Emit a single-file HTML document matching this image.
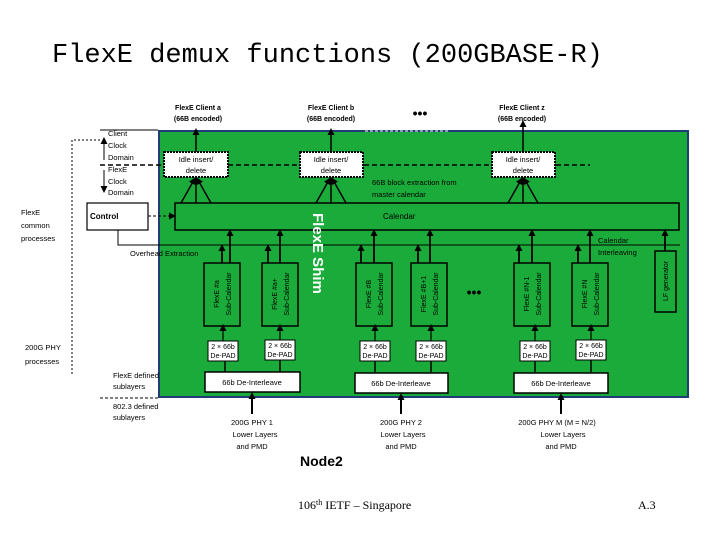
<!DOCTYPE html>
<html><head><meta charset="utf-8"><style>
html,body{margin:0;padding:0;background:#fff;width:720px;height:540px;overflow:hidden}
svg{display:block}
text{font-family:"Liberation Sans",sans-serif}
</style></head><body>
<svg width="720" height="540" viewBox="0 0 720 540" xmlns="http://www.w3.org/2000/svg">
<defs><marker id="a" markerWidth="7" markerHeight="7" refX="4" refY="3.5" orient="auto" markerUnits="userSpaceOnUse"><path d="M0,0L7,3.5L0,7z" fill="#000"/></marker></defs>
<text x="52" y="62" font-size="27" style="font-family:'Liberation Mono',monospace">FlexE demux functions (200GBASE-R)</text>
<rect x="159" y="131" width="529" height="266" fill="#1aab3a" stroke="#1f3c78" stroke-width="2"/>
<line x1="100" y1="130" x2="158" y2="130" stroke="#000"/>
<line x1="365" y1="131" x2="450" y2="131" stroke="#fff" stroke-dasharray="3,2"/>
<g font-size="7" font-weight="bold" text-anchor="middle">
<text x="198" y="110">FlexE Client a</text><text x="198" y="121">(66B encoded)</text>
<text x="331" y="110">FlexE Client b</text><text x="331" y="121">(66B encoded)</text>
<text x="522" y="110">FlexE Client z</text><text x="522" y="121">(66B encoded)</text>
</g>
<text x="420" y="118" font-size="14" font-weight="bold" text-anchor="middle">•••</text>
<line x1="100" y1="165" x2="590" y2="165" stroke="#000" stroke-width="1.5" stroke-dasharray="5,3"/>
<g fill="#fff" stroke="#000" stroke-width="2" stroke-dasharray="2,1">
<rect x="164" y="152" width="64" height="25"/><rect x="300" y="152" width="63" height="25"/><rect x="492" y="152" width="63" height="25"/>
</g>
<g font-size="7.5" text-anchor="middle">
<text x="196" y="162">Idle insert/</text><text x="196" y="173">delete</text>
<text x="331" y="162">Idle insert/</text><text x="331" y="173">delete</text>
<text x="523" y="162">Idle insert/</text><text x="523" y="173">delete</text>
</g>
<g stroke="#000" stroke-width="1.5" marker-end="url(#a)">
<line x1="196" y1="152" x2="196" y2="131"/><line x1="331" y1="152" x2="331" y2="131"/><line x1="523" y1="152" x2="523" y2="123"/>
<line x1="181" y1="203" x2="194" y2="180"/><line x1="196" y1="203" x2="196" y2="180"/><line x1="211" y1="203" x2="198" y2="180"/>
<line x1="316" y1="203" x2="329" y2="180"/><line x1="331" y1="203" x2="331" y2="180"/><line x1="346" y1="203" x2="333" y2="180"/>
<line x1="508" y1="203" x2="521" y2="180"/><line x1="523" y1="203" x2="523" y2="180"/><line x1="538" y1="203" x2="525" y2="180"/>
</g>
<text x="372" y="185" font-size="7.5">66B block extraction from</text>
<text x="372" y="197" font-size="7.5">master calendar</text>
<rect x="175" y="203" width="504" height="27" fill="#1aab3a" stroke="#000" stroke-width="1.5"/>
<text x="383" y="219" font-size="8">Calendar</text>
<rect x="87" y="203" width="61" height="27" fill="#fff" stroke="#000" stroke-width="1.2"/>
<text x="90" y="219" font-size="8" font-weight="bold">Control</text>
<line x1="148" y1="216" x2="173" y2="216" stroke="#000" stroke-dasharray="3,2" marker-end="url(#a)"/>
<polyline points="118,230 118,245 680,245" fill="none" stroke="#000" stroke-width="1"/>
<text x="130" y="256" font-size="7.5">Overhead Extraction</text>
<text x="598" y="243" font-size="7.5">Calendar</text><text x="598" y="255" font-size="7.5">Interleaving</text>
<g fill="#1aab3a" stroke="#000" stroke-width="1.5">
<rect x="204" y="263" width="36" height="63"/><rect x="262" y="263" width="36" height="63"/>
<rect x="356" y="263" width="36" height="63"/><rect x="411" y="263" width="36" height="63"/>
<rect x="514" y="263" width="36" height="63"/><rect x="572" y="263" width="36" height="63"/>
<rect x="655" y="251" width="21" height="61"/>
</g>
<g font-size="7" text-anchor="middle">
<text transform="translate(219,294) rotate(-90)">FlexE #a</text><text transform="translate(231,294) rotate(-90)">Sub-Calendar</text>
<text transform="translate(277,294) rotate(-90)">FlexE #a+</text><text transform="translate(289,294) rotate(-90)">Sub-Calendar</text>
<text transform="translate(371,294) rotate(-90)">FlexE #B</text><text transform="translate(383,294) rotate(-90)">Sub-Calendar</text>
<text transform="translate(426,294) rotate(-90)">FlexE #B+1</text><text transform="translate(438,294) rotate(-90)">Sub-Calendar</text>
<text transform="translate(529,294) rotate(-90)">FlexE #N-1</text><text transform="translate(541,294) rotate(-90)">Sub-Calendar</text>
<text transform="translate(587,294) rotate(-90)">FlexE #N</text><text transform="translate(599,294) rotate(-90)">Sub-Calendar</text>
<text transform="translate(668,281) rotate(-90)">LF generator</text>
</g>
<g stroke="#000" stroke-width="1.8" marker-end="url(#a)">
<line x1="222" y1="263" x2="222" y2="247"/><line x1="230" y1="263" x2="230" y2="232"/>
<line x1="268" y1="263" x2="268" y2="247"/><line x1="280" y1="263" x2="280" y2="232"/>
<line x1="361" y1="263" x2="361" y2="247"/><line x1="374" y1="263" x2="374" y2="232"/>
<line x1="418" y1="263" x2="418" y2="247"/><line x1="430" y1="263" x2="430" y2="232"/>
<line x1="519" y1="263" x2="519" y2="247"/><line x1="532" y1="263" x2="532" y2="232"/>
<line x1="578" y1="263" x2="578" y2="247"/><line x1="590" y1="263" x2="590" y2="232"/>
<line x1="665" y1="251" x2="665" y2="232"/>
</g>
<text x="474" y="297" font-size="14" font-weight="bold" text-anchor="middle">•••</text>
<text transform="translate(313,213) rotate(90)" font-size="15" font-weight="bold" fill="#fff">FlexE Shim</text>
<g fill="#fff" stroke="#000" stroke-width="1">
<rect x="208" y="341" width="30" height="20"/><rect x="265" y="340" width="30" height="20"/>
<rect x="360" y="341" width="30" height="20"/><rect x="416" y="341" width="30" height="20"/>
<rect x="520" y="341" width="30" height="20"/><rect x="576" y="340" width="30" height="20"/>
</g>
<g font-size="7" text-anchor="middle">
<text x="223" y="349">2 × 66b</text><text x="223" y="358">De-PAD</text>
<text x="280" y="348">2 × 66b</text><text x="280" y="357">De-PAD</text>
<text x="375" y="349">2 × 66b</text><text x="375" y="358">De-PAD</text>
<text x="431" y="349">2 × 66b</text><text x="431" y="358">De-PAD</text>
<text x="535" y="349">2 × 66b</text><text x="535" y="358">De-PAD</text>
<text x="591" y="348">2 × 66b</text><text x="591" y="357">De-PAD</text>
</g>
<g stroke="#000" stroke-width="1.2" marker-end="url(#a)">
<line x1="223" y1="341" x2="223" y2="327"/><line x1="280" y1="340" x2="280" y2="327"/>
<line x1="375" y1="341" x2="375" y2="327"/><line x1="431" y1="341" x2="431" y2="327"/>
<line x1="535" y1="341" x2="535" y2="327"/><line x1="591" y1="340" x2="591" y2="327"/>
</g>
<g stroke="#000" stroke-width="1.5">
<line x1="225" y1="372" x2="225" y2="361"/><line x1="280" y1="372" x2="280" y2="360"/>
<line x1="375" y1="372" x2="375" y2="361"/><line x1="431" y1="372" x2="431" y2="361"/>
<line x1="535" y1="372" x2="535" y2="361"/><line x1="591" y1="372" x2="591" y2="360"/>
</g>
<g fill="#fff" stroke="#000" stroke-width="1.5">
<rect x="205" y="372" width="95" height="20"/><rect x="355" y="373" width="93" height="20"/><rect x="514" y="373" width="94" height="20"/>
</g>
<g font-size="7.5" text-anchor="middle">
<text x="252" y="385">66b De-Interleave</text><text x="401" y="386">66b De-Interleave</text><text x="561" y="386">66b De-Interleave</text>
</g>
<g stroke="#000" stroke-width="2" marker-end="url(#a)">
<line x1="252" y1="414" x2="252" y2="395"/><line x1="401" y1="414" x2="401" y2="396"/><line x1="561" y1="414" x2="561" y2="396"/>
</g>
<g font-size="7.5" text-anchor="middle">
<text x="252" y="425">200G PHY 1</text><text x="255" y="437">Lower Layers</text><text x="252" y="449">and PMD</text>
<text x="401" y="425">200G PHY 2</text><text x="403" y="437">Lower Layers</text><text x="401" y="449">and PMD</text>
<text x="557" y="425">200G PHY M (M = N/2)</text><text x="563" y="437">Lower Layers</text><text x="561" y="449">and PMD</text>
</g>
<text x="300" y="466" font-size="14" font-weight="bold">Node2</text>
<g font-size="7.5">
<text x="108" y="136">Client</text><text x="108" y="148">Clock</text><text x="108" y="160">Domain</text>
<text x="108" y="172">FlexE</text><text x="108" y="184">Clock</text><text x="108" y="195">Domain</text>
<text x="21" y="215">FlexE</text><text x="21" y="228">common</text><text x="21" y="241">processes</text>
<text x="25" y="350">200G PHY</text><text x="25" y="364">processes</text>
<text x="113" y="378">FlexE defined</text><text x="113" y="389">sublayers</text>
<text x="113" y="409">802.3 defined</text><text x="113" y="420">sublayers</text>
</g>
<line x1="104" y1="160" x2="104" y2="140" stroke="#000" marker-end="url(#a)"/>
<line x1="104" y1="170" x2="104" y2="190" stroke="#000" marker-end="url(#a)"/>
<line x1="100" y1="398" x2="158" y2="398" stroke="#000" stroke-dasharray="3,2"/>
<polyline points="100,140 72,140 72,375" fill="none" stroke="#000" stroke-width="1" stroke-dasharray="2,2"/>
<text x="298" y="509" font-size="12" style="font-family:'Liberation Serif',serif">106<tspan font-size="8" dy="-4">th</tspan><tspan dy="4"> IETF – Singapore</tspan></text>
<text x="638" y="509" font-size="12" style="font-family:'Liberation Serif',serif">A.3</text>
</svg>
</body></html>
